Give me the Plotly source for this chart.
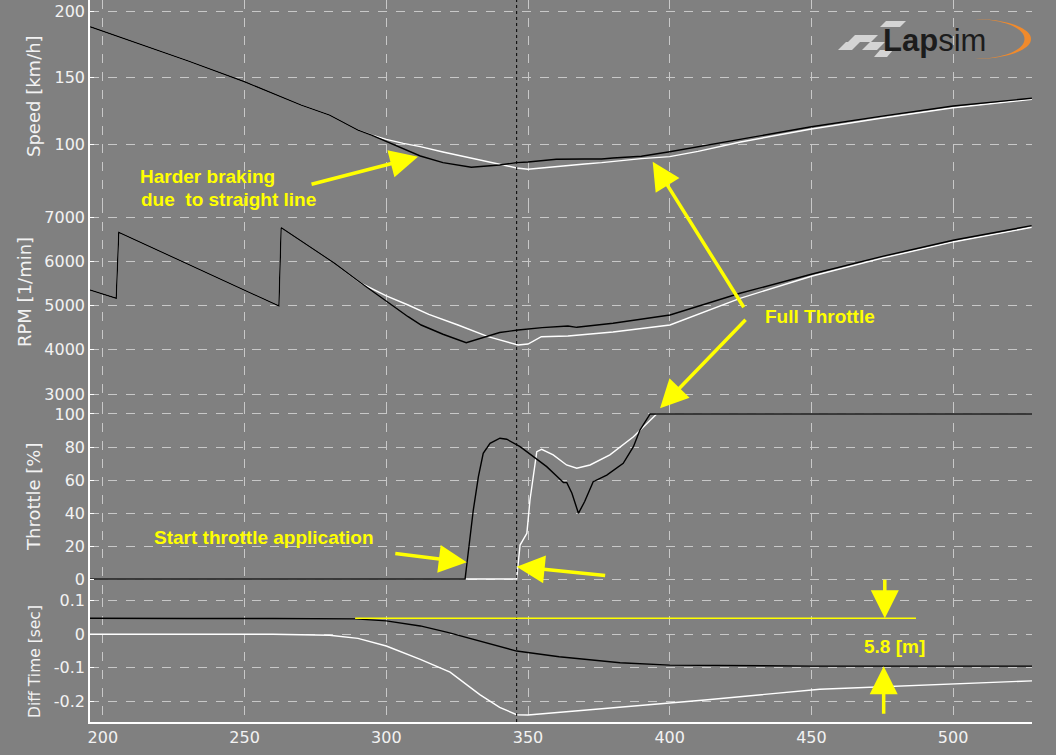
import math
import plotly.graph_objects as go

# ---------------- data ----------------
speed_x = [195.5, 210, 230, 250, 270, 280, 290, 295, 300, 306, 312, 320, 330, 340, 346, 350, 360, 370, 376, 380, 390, 400, 410, 425, 450, 475, 500, 527.8]
speed_black = [188.2, 177.5, 162.5, 146.8, 129.3, 121.8, 110.5, 106.5, 102, 96, 91, 86, 82.5, 84.2, 86, 86.5, 88.5, 88.7, 88.7, 89.5, 90.8, 94.2, 98, 104, 113, 121, 128.6, 134.4]
speed_white = [188.2, 177.5, 162.5, 146.8, 129.3, 121.8, 110.5, 106.7, 103.5, 100.5, 98, 94, 89.2, 84.5, 82, 81, 83.2, 85, 86, 87, 89, 90.5, 94.5, 101.5, 111.3, 119.6, 127.3, 133.6]

rpm_x_black = [195.4, 204.7, 205.6, 262.1, 262.9, 281.8, 291.2, 300, 307.7, 312.3, 320, 328.2, 334.7, 340, 346.5, 355, 364.1, 367.2, 380, 400.1, 424.8, 450.3, 475, 500.4, 527.7]
rpm_black = [5350, 5163, 6654, 4989, 6759, 5953, 5502, 5100, 4747, 4559, 4350, 4160, 4295, 4390, 4446, 4500, 4537, 4507, 4600, 4785, 5276, 5712, 6110, 6480, 6804]
rpm_x_white = [195.4, 204.7, 205.6, 262.1, 262.9, 281.8, 291.2, 300, 307.7, 315, 325.3, 335.9, 346.5, 350, 354.7, 364.1, 380, 400.1, 424.8, 450.3, 475, 500.4, 527.7]
rpm_white = [5350, 5163, 6654, 4989, 6759, 5953, 5502, 5220, 5011, 4800, 4559, 4295, 4107, 4130, 4295, 4311, 4400, 4559, 5163, 5667, 6070, 6442, 6767]

thr_x_black = [195.45, 327.8, 330.7, 332.5, 334.2, 336.6, 340.1, 342.5, 347.2, 351.9, 356.6, 361.3, 362.5, 363.7, 365.5, 367.8, 370, 373, 377.8, 383.6, 387.2, 389.5, 393.1, 527.84]
thr_black = [0, 0, 41.8, 62, 76.2, 82.2, 85.3, 84.7, 80.2, 74.1, 68.1, 60.4, 58.5, 58.4, 52, 39.8, 47, 59, 63, 70.1, 80.2, 90.3, 100, 100]
thr_x_white = [195.45, 346, 347.2, 349.6, 350.7, 353.1, 354.8, 358.9, 363.6, 367.2, 371.9, 378.9, 387.2, 395.4, 527.84]
thr_white = [0, 0, 20.6, 27.7, 47.9, 77.2, 78.6, 75.2, 69.1, 67.1, 69.1, 75.2, 86.2, 100, 100]

diff_x_black = [195.45, 207, 230, 260, 289, 300, 312, 322, 333, 346, 361, 382.5, 400, 450, 527.84]
diff_black = [0.048, 0.047, 0.047, 0.047, 0.046, 0.04, 0.025, 0.005, -0.02, -0.05, -0.067, -0.085, -0.092, -0.095, -0.095]
diff_x_white = [195.45, 260, 280, 290, 300, 312, 322.5, 333, 340, 346, 350, 361.4, 371.6, 388.6, 412.4, 453, 500, 527.84]
diff_white = [0.0, 0.0, -0.003, -0.012, -0.035, -0.075, -0.113, -0.18, -0.218, -0.24, -0.241, -0.233, -0.226, -0.214, -0.196, -0.164, -0.148, -0.139]

x_ticks = [200, 250, 300, 350, 400, 450, 500]
speed_ticks = [100, 150, 200]
rpm_ticks = [3000, 4000, 5000, 6000, 7000]
thr_ticks = [0, 20, 40, 60, 80, 100]
diff_ticks = [-0.2, -0.1, 0, 0.1]
diff_labels = ["-0.2", "-0.1", "0", "0.1"]

cursor_x = 346
gap_line_x = [289, 486.9]
gap_line_y = 0.048

# ---------------- figure ----------------
BG = "#808080"
TXT = "#f2f2f2"
YEL = "#ffff00"
W, H = 1056, 755
ML, MR, MT, MB = 90, 24, 0, 33
PW, PH = W - ML - MR, H - MT - MB


def pp(px, py):
    return ((px - ML) / PW, 1 - (py - MT) / PH)


fig = go.Figure()
lw = 1.4
for xs, ys, ax in [(speed_x, speed_white, "y"), (rpm_x_white, rpm_white, "y2"),
                   (thr_x_white, thr_white, "y3"), (diff_x_white, diff_white, "y4")]:
    fig.add_trace(go.Scatter(x=xs, y=ys, xaxis="x", yaxis=ax, mode="lines",
                             line=dict(color="white", width=lw), hoverinfo="skip"))
for xs, ys, ax in [(speed_x, speed_black, "y"), (rpm_x_black, rpm_black, "y2"),
                   (thr_x_black, thr_black, "y3"), (diff_x_black, diff_black, "y4")]:
    fig.add_trace(go.Scatter(x=xs, y=ys, xaxis="x", yaxis=ax, mode="lines",
                             line=dict(color="black", width=lw), hoverinfo="skip"))

b_speed = 204
b_rpm = 405
b_thr = 598

tickfont = dict(family="DejaVu Sans", size=16, color=TXT)
common = dict(showgrid=True, gridcolor="#c8c8c8", griddash="dash", gridwidth=1,
              showline=True, linecolor="white", linewidth=1.5, ticks="inside",
              ticklen=4, tickcolor="white", tickfont=tickfont, zeroline=False,
              anchor="x", fixedrange=True)

fig.update_layout(
    width=W, height=H, margin=dict(l=ML, r=MR, t=MT, b=MB, autoexpand=False),
    paper_bgcolor=BG, plot_bgcolor=BG, showlegend=False,
    xaxis=dict(range=[195.45, 527.84], tickvals=x_ticks, showgrid=True,
               gridcolor="#c8c8c8", griddash="dash", showline=True,
               linecolor="white", linewidth=1.5, ticks="", tickfont=tickfont,
               zeroline=False, anchor="y4", domain=[0, 1], fixedrange=True),
    yaxis=dict(common, domain=[1 - b_speed / PH, 1], range=[54.9, 208.27], tickvals=speed_ticks),
    yaxis2=dict(common, domain=[1 - b_rpm / PH, 1 - b_speed / PH], range=[2751.4, 7293.8], tickvals=rpm_ticks),
    yaxis3=dict(common, domain=[1 - b_thr / PH, 1 - b_rpm / PH], range=[-11.5, 105.45], tickvals=thr_ticks),
    yaxis4=dict(common, domain=[0, 1 - b_thr / PH], range=[-0.2618, 0.1084],
                tickvals=diff_ticks, ticktext=diff_labels),
)

shapes = []
# cursor
shapes.append(dict(type="line", xref="x", yref="paper", x0=cursor_x, x1=cursor_x, y0=0, y1=1,
                   line=dict(color="black", width=1, dash="3px,3px")))
# yellow reference line in diff panel
shapes.append(dict(type="line", xref="x", yref="y4", x0=gap_line_x[0], x1=gap_line_x[1],
                   y0=gap_line_y, y1=gap_line_y, line=dict(color=YEL, width=1.5)))


def path(pts, close=True):
    s = ""
    for i, (a, b) in enumerate(pts):
        X, Y = pp(a, b)
        s += ("M" if i == 0 else "L") + f"{X:.5f},{Y:.5f} "
    return s + ("Z" if close else "")


# logo: checkered stripes
stripe_col = "#d4d4d4"
for quad in [
    [(880, 27), (886, 21), (906, 21), (900, 27)],
    [(848, 42), (855, 35), (878, 35), (871, 42)],
    [(838, 50), (846, 42), (860, 42), (852, 50)],
    [(862, 50), (870, 42), (885, 42), (877, 50)],
    [(874, 57), (880, 50), (893, 50), (887, 57)],
]:
    shapes.append(dict(type="path", xref="paper", yref="paper", path=path(quad),
                       fillcolor=stripe_col, line=dict(width=0)))
# logo: orange swoosh (crescent)
outer = []
inner = []
for i in range(41):
    t = i / 40
    ang = math.pi * (-0.5 + t)
    outer.append((975 + 56 * math.cos(ang), 39 + 20 * math.sin(ang)))
    th = 0.5 + 6.0 * math.cos(ang)
    inner.append((975 + (56 - th) * math.cos(ang), 39 + (20 - th * 0.15) * math.sin(ang)))
pts = [(x, y) for (x, y) in outer if x > 938]
pts_in = [(x, y) for (x, y) in inner if x > 938][::-1]
shapes.append(dict(type="path", xref="paper", yref="paper", path=path(pts + pts_in),
                   fillcolor="#f08a2c", line=dict(width=0)))
fig.update_layout(shapes=shapes)

ann = []
lx, ly = pp(934, 40)
ann.append(dict(xref="paper", yref="paper", x=lx, y=ly, text="<b>Lap</b>sim", showarrow=False,
                font=dict(family="Liberation Sans", size=31, color="#1c1c1c"),
                xanchor="center", yanchor="middle"))

# axis titles
for text, px, py, size in [("Speed [km/h]", 33, 96, 18), ("RPM [1/min]", 24, 292, 18),
                           ("Throttle [%]", 33, 497, 18), ("Diff Time [sec]", 35, 662, 15.5)]:
    X, Y = pp(px, py)
    ann.append(dict(xref="paper", yref="paper", x=X, y=Y, text=text, textangle=-90,
                    showarrow=False, xanchor="center", yanchor="middle",
                    font=dict(family="DejaVu Sans", size=size, color=TXT)))

# yellow texts
yfont = dict(family="Liberation Sans", size=19, color=YEL)
for text, px, py, anchor in [("<b>Harder braking</b>", 137.5, 176.7, "left"),
                             ("<b>due  to straight line</b>", 138.5, 199.3, "left"),
                             ("<b>Full Throttle</b>", 820, 316.7, "center"),
                             ("<b>Start throttle application</b>", 264, 537, "center"),
                             ("<b>5.8 [m]</b>", 894.7, 646, "center")]:
    X, Y = pp(px, py)
    ann.append(dict(xref="paper", yref="paper", x=X, y=Y, text=text, showarrow=False,
                    xanchor=anchor, yanchor="middle", font=yfont))

# yellow arrows (tip in data coords, tail as pixel offset)
for x, y, yref, ax, ay in [(311.2, 90.5, "y", -108, 28),
                           (394.0, 86.7, "y", 92, 147),
                           (396.6, 103.5, "y3", 87, -90),
                           (328.4, 10.1, "y3", -73, -9),
                           (346.0, 7.5, "y3", 90, 9),
                           (475.9, 0.048, "y4", 0, -40),
                           (475.5, -0.0955, "y4", 0, 49)]:
    ann.append(dict(xref="x", yref=yref, x=x, y=y, ax=ax, ay=ay, text="", showarrow=True,
                    arrowcolor=YEL, arrowwidth=3.5, arrowhead=2, arrowsize=1.6, standoff=0))

fig.update_layout(annotations=ann)
fig.write_html("out.html", config={"displayModeBar": False},
               post_script="document.body.style.margin='0';document.body.style.padding='0';")
